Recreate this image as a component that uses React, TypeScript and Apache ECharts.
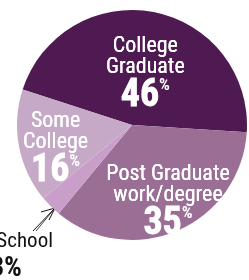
import React, { useEffect, useRef } from "react";
import * as echarts from "echarts";

const categories = ["College Graduate", "Post Graduate work/degree", "High School", "Some College"];
const values = [46, 35, 3, 16];
const labelLines = [["College", "Graduate"], ["Post Graduate", "work/degree"], ["High", "School"], ["Some", "College"]];
const colors = ["#4f1a52", "#9b6f95", "#c99fca", "#c5a9c6"];
const labelOffsets: [number, number][] = [[2, 6], [12, 19], [0, 0], [-17, 11]];

export default function App() {
  const ref = useRef<HTMLDivElement>(null);
  useEffect(() => {
    const chart = echarts.init(ref.current!, null, { renderer: "svg" });
    const font = "'Liberation Sans Narrow', 'Roboto Condensed', Arial, sans-serif";
    chart.setOption({
      animation: false,
      series: [
        {
          type: "pie",
          center: [132, 125],
          radius: 115,
          startAngle: 162,
          clockwise: true,
          silent: true,
          data: categories.map((c, i) => ({
            name: c,
            value: values[i],
            itemStyle: { color: colors[i] },
            label: {
              show: i !== 2,
              position: "inside",
              offset: labelOffsets[i],
            },
          })),
          label: {
            position: "inside",
            fontFamily: font,
            color: "#fff",
            formatter: (p: any) =>
              labelLines[p.dataIndex].map((l) => `{t|${l}}`).join("\n") +
              `\n{n|${values[p.dataIndex]}}{p|%}`,
            rich: {
              t: { fontFamily: font, fontSize: 22, lineHeight: 21, color: "#fff", textShadowColor: "#fff", textShadowBlur: 0.6 },
              n: { fontFamily: font, fontSize: 38, fontWeight: "bold", lineHeight: 34, color: "#fff", textBorderColor: "#fff", textBorderWidth: 0.8 },
              p: { fontFamily: font, fontSize: 17, fontWeight: "bold", lineHeight: 34, color: "#fff", verticalAlign: "top" },
            },
          },
          labelLine: { show: false },
        },
      ],
      graphic: [
        {
          type: "text",
          x: 53,
          y: 229,
          style: {
            text: labelLines[2].join(" "),
            align: "right",
            fontFamily: font,
            fontSize: 21,
            fill: "#111",
          },
        },
        {
          type: "text",
          x: 22,
          y: 252,
          style: {
            text: `${values[2]}%`,
            align: "right",
            fontFamily: font,
            fontSize: 28,
            fontWeight: "bold",
            fill: "#111",
          },
        },
        { type: "line", shape: { x1: 33, y1: 231, x2: 55, y2: 208 }, style: { stroke: "#111", lineWidth: 1 } },
        { type: "polyline", shape: { points: [[41, 212], [55, 208], [49, 220]] }, style: { stroke: "#111", lineWidth: 1, fill: "none" } },
        { type: "line", shape: { x1: 36, y1: 231, x2: 55, y2: 208 }, style: { stroke: "#111", lineWidth: 0.8 } },
      ],
    });
    return () => chart.dispose();
  }, []);
  return <div ref={ref} style={{ position: "fixed", left: 0, top: 0, width: 249, height: 280 }} />;
}
